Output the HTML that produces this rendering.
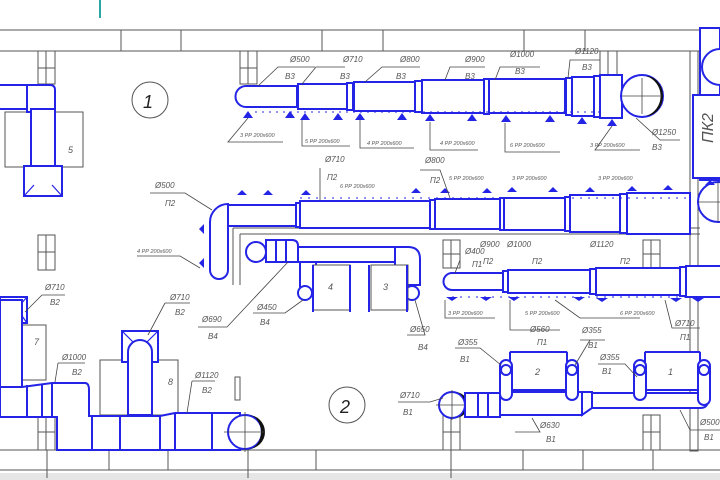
<!DOCTYPE html>
<html><head><meta charset="utf-8"><style>
html,body{margin:0;padding:0;background:#fff;width:720px;height:480px;overflow:hidden}
svg{display:block}
text{font-family:"Liberation Sans",sans-serif;font-style:italic;fill:#555}
.g{stroke:#555;stroke-width:1;fill:none}
.gf{stroke:#555;stroke-width:1;fill:#fff}
.b{stroke:#2424e6;stroke-width:2;fill:#fff}
.bn{stroke:#2424e6;stroke-width:2;fill:none}
.bt{stroke:#2424e6;stroke-width:1.2;fill:none}
.l{stroke:#444;stroke-width:0.8;fill:none}
.d{fill:#2424e6}
</style></head><body>
<svg width="720" height="480" viewBox="0 0 720 480" xmlns="http://www.w3.org/2000/svg">
<rect x="0" y="473" width="720" height="7" fill="#e6e6e6"/>
<line x1="100" y1="0" x2="100" y2="18" stroke="#2aa6a6" stroke-width="2"/>
<!-- walls -->
<path class="g" d="M0 30H700M0 51H700M121 30V51M181 30V51M322 30V51M383 30V51M524 30V51M585 30V51"/>
<path class="g" d="M0 450H720M0 470H720M47 450V478M109 450V470M168 450V470M248 440V478M316 450V470M451 450V478M523 450V470M583 450V470M653 450V470"/>
<!-- columns -->
<g class="g">
<rect x="38" y="51" width="17" height="33"/><path d="M46 51V84M38 68H55"/>
<rect x="240" y="51" width="17" height="33"/><path d="M248 51V84M240 68H257"/>
<rect x="38" y="235" width="17" height="35"/><path d="M46 235V270M38 252H55"/>
<rect x="38" y="415" width="17" height="35"/><path d="M46 415V450M38 432H55"/>
<rect x="443" y="415" width="17" height="35"/><path d="M451 415V450M443 432H460"/>
<rect x="643" y="415" width="17" height="35"/><path d="M651 415V450M643 432H660"/>
<rect x="443" y="240" width="17" height="28"/><path d="M451 240V268M443 254H460"/>
<rect x="643" y="240" width="17" height="28"/><path d="M651 240V268M643 254H660"/>
<rect x="600" y="51" width="17" height="30"/><path d="M608 51V81"/>
<rect x="690" y="51" width="8" height="400"/>
<rect x="235" y="377" width="5" height="23"/>
</g>
<!-- circles 1 2 -->
<circle cx="150" cy="100" r="18" class="g"/><text x="143" y="108" font-size="18" style="fill:#222">1</text>
<circle cx="347" cy="405" r="18" class="g"/><text x="340" y="413" font-size="18" style="fill:#222">2</text>
<!-- unit 5 -->
<rect class="gf" x="5" y="112" width="78" height="55"/><text x="68" y="153" font-size="9">5</text>
<path class="b" d="M0 85H28V109H0"/>
<path class="b" d="M27 85H50Q55 85 55 90V112H27Z"/>
<path class="b" d="M31 109H55V180A12 12 0 0 1 31 180Z"/>
<path class="b" d="M24 166H62V196H24Z"/><path class="bt" d="M24 196L34 185M62 196L52 185"/>
<!-- top duct B3 -->
<path class="b" d="M246 86H297V107H246A10.5 10.5 0 0 1 246 86Z"/>
<rect class="b" x="298" y="84" width="49" height="25"/>
<rect class="b" x="347" y="83" width="6" height="27"/>
<rect class="b" x="354" y="82" width="61" height="29"/>
<rect class="b" x="415" y="81" width="7" height="31"/>
<rect class="b" x="422" y="80" width="62" height="33"/>
<rect class="b" x="484" y="79" width="5" height="35"/>
<rect class="b" x="489" y="79" width="76" height="34"/>
<rect class="b" x="566" y="78" width="6" height="37"/>
<rect class="b" x="572" y="77" width="22" height="39"/>
<rect class="b" x="594" y="76" width="6" height="41"/>
<rect class="b" x="600" y="75" width="22" height="43"/>
<circle cx="642" cy="96" r="21" class="b"/>
<path d="M646 76A21 21 0 0 1 646 116A17 20 0 0 0 646 76Z" fill="#111"/>
<path class="l" d="M622 96H662M642 78V114"/>
<!-- diffusers top -->
<g class="d">
<path d="M243 118l5-7 5 7zM285 118l5-7 5 7zM300 120l5-7 5 7zM333 120l5-7 5 7zM355 120l5-7 5 7zM397 120l5-7 5 7zM425 121l5-7 5 7zM467 121l5-7 5 7zM501 122l5-7 5 7zM545 122l5-7 5 7zM577 124l5-7 5 7zM607 126l5-7 5 7z"/>
</g>
<path d="M255 112H600" stroke="#2424e6" stroke-width="1" stroke-dasharray="2 5"/>
<!-- top labels -->
<g font-size="8">
<text x="290" y="62">Ø500</text><text x="285" y="79">В3</text>
<text x="343" y="62">Ø710</text><text x="340" y="79">В3</text>
<text x="400" y="62">Ø800</text><text x="396" y="79">В3</text>
<text x="465" y="62">Ø900</text><text x="465" y="79">В3</text>
<text x="510" y="57">Ø1000</text><text x="515" y="74">В3</text>
<text x="575" y="54">Ø1120</text><text x="582" y="70">В3</text>
<text x="652" y="135">Ø1250</text><text x="652" y="150">В3</text>
</g>
<path class="l" d="M258 86L278 67H315M302 84L316 67H345M365 82L382 67H420M445 80L450 67H485M495 80L500 67H540M568 78L570 60H600M636 118L660 140H680"/>
<g font-size="5.5">
<text x="240" y="137">3 РР 200х600</text><text x="305" y="143">5 РР 200х600</text>
<text x="367" y="145">4 РР 200х600</text><text x="440" y="145">4 РР 200х600</text>
<text x="510" y="147">6 РР 200х600</text><text x="590" y="147">3 РР 200х600</text>
</g>
<path class="l" d="M248 118L228 142H283M302 120V146H350M360 120V148H414M430 122V150H478M505 123V152H560M612 126L595 150H640"/>
<!-- right box -->
<path class="b" d="M700 28H720V180H700Z"/>
<circle cx="720" cy="67" r="18" class="b"/>
<rect class="b" x="693" y="95" width="30" height="83"/>
<text x="700" y="140" font-size="16" transform="rotate(-90 708 135)">ПК2</text>
<!-- P2 duct -->
<path class="gf" d="M233 228H700M233 228V285M240 234H700M240 234V285"/>
<path class="b" d="M210 222A18 18 0 0 1 228 204V270A9 9 0 0 1 210 270Z"/>
<path class="b" d="M228 205H296V226H228Z"/><path class="bn" d="M228 205V226"/>
<rect class="b" x="296" y="203" width="4" height="24"/>
<rect class="b" x="300" y="201" width="130" height="27"/>
<rect class="b" x="430" y="200" width="5" height="29"/>
<rect class="b" x="435" y="199" width="65" height="30"/>
<rect class="b" x="500" y="198" width="4" height="32"/>
<rect class="b" x="504" y="198" width="61" height="32"/>
<rect class="b" x="565" y="197" width="5" height="34"/>
<rect class="b" x="570" y="195" width="50" height="37"/>
<rect class="b" x="620" y="194" width="7" height="39"/>
<rect class="b" x="627" y="193" width="63" height="41"/>
<circle cx="718" cy="202" r="20" class="b"/>
<path class="l" d="M698 202H720M718 182V222"/>
<g class="d">
<path d="M237 195l5-5 5 5zM263 195l5-5 5 5zM301 195l5-5 5 5zM411 193l5-5 5 5zM440 193l5-5 5 5zM482 193l5-5 5 5zM507 192l5-5 5 5zM548 192l5-5 5 5zM585 192l5-5 5 5zM627 191l5-5 5 5zM663 190l5-5 5 5zM705 185l5-5 5 5z"/>
<path d="M204 224l-5 5 5 5zM204 258l-5 5 5 5z"/>
</g>
<path d="M300 198H690" stroke="#2424e6" stroke-width="1" stroke-dasharray="2 6"/>
<g font-size="8">
<text x="155" y="188">Ø500</text><text x="165" y="206">П2</text>
<text x="325" y="162">Ø710</text><text x="327" y="180">П2</text>
<text x="425" y="163">Ø800</text><text x="430" y="183">П2</text>
<text x="480" y="247">Ø900</text><text x="507" y="247">Ø1000</text><text x="590" y="247">Ø1120</text>
<text x="483" y="264">П2</text><text x="532" y="264">П2</text><text x="620" y="264">П2</text>
</g>
<g font-size="5.5">
<text x="340" y="188">6 РР 200х600</text><text x="449" y="180">5 РР 200х600</text>
<text x="512" y="180">3 РР 200х600</text><text x="598" y="180">3 РР 200х600</text>
<text x="137" y="253">4 РР 200х600</text>
</g>
<path class="l" d="M150 193H185L212 210M320 168V200M420 170H440L450 198M137 256H180L200 268"/>
<!-- B4 branch -->
<circle cx="256" cy="252" r="10" class="b"/>
<path class="b" d="M266 240H292Q298 240 298 246V262H266Z"/><path class="bn" d="M276 240V262M286 240V262"/>
<path class="b" d="M300 263A8 8 0 0 1 316 263V292H300Z"/>
<path class="b" d="M298 247H400V262H298Z"/>
<path class="b" d="M395 247H408Q420 247 420 259V285H395Z"/>
<circle cx="305" cy="293" r="7" class="b"/><circle cx="412" cy="293" r="7" class="b"/>
<rect class="gf" x="313" y="265" width="37" height="45"/><rect class="gf" x="371" y="265" width="37" height="45"/>
<path class="bn" d="M313 265V312M350 265V312M369 265V312M407 265V312"/>
<text x="328" y="290" font-size="9">4</text><text x="383" y="290" font-size="9">3</text>
<g font-size="8"><text x="257" y="310">Ø450</text><text x="260" y="325">В4</text>
<text x="202" y="322">Ø690</text><text x="208" y="339">В4</text>
<text x="410" y="332">Ø650</text><text x="418" y="350">В4</text></g>
<path class="l" d="M253 313H285L303 300M198 327H227L288 262M407 335H425L415 300"/>
<!-- P1 duct -->
<path class="b" d="M452 273H503V290H452A8.5 8.5 0 0 1 452 273Z"/>
<rect class="b" x="503" y="271" width="5" height="21"/>
<rect class="b" x="508" y="270" width="82" height="23"/>
<rect class="b" x="590" y="269" width="6" height="25"/>
<rect class="b" x="596" y="268" width="84" height="27"/>
<rect class="b" x="680" y="267" width="6" height="29"/>
<rect class="b" x="686" y="266" width="40" height="31"/>
<g class="d">
<path d="M446 297h12l-6 4zM480 297h12l-6 4zM508 297h12l-6 4zM573 297h12l-6 4zM596 298h12l-6 4zM670 298h12l-6 4zM692 298h12l-6 4z"/>
</g>
<path d="M452 297H720" stroke="#2424e6" stroke-width="1" stroke-dasharray="2 6"/>
<g font-size="5.5"><text x="448" y="315">3 РР 200х600</text><text x="525" y="315">5 РР 200х600</text><text x="620" y="315">6 РР 200х600</text></g>
<g font-size="8"><text x="465" y="254">Ø400</text><text x="472" y="267">П1</text>
<text x="530" y="332">Ø560</text><text x="537" y="345">П1</text>
<text x="675" y="326">Ø710</text><text x="680" y="340">П1</text></g>
<path class="l" d="M460 260L455 273M445 300V318H495M510 300V330H560M555 300L580 318H640M665 300L672 328H700"/>
<!-- B1 -->
<circle cx="452" cy="405" r="13" class="b"/>
<path d="M455 392A13 13 0 0 1 455 418A10 13 0 0 0 455 392Z" fill="#111"/>
<path class="l" d="M436 405H468M452 390V420"/>
<rect class="b" x="465" y="393" width="35" height="24"/><path class="bn" d="M478 393V417M488 393V417"/>
<path class="b" d="M500 392H582V415H500Z"/>
<path class="b" d="M582 392H592V408L582 415Z"/>
<path class="b" d="M592 393H700A10 10 0 0 0 708 383V400Q708 408 700 408H592Z"/>
<rect class="gf" x="510" y="352" width="57" height="38"/><rect class="gf" x="645" y="352" width="55" height="38"/>
<path class="bn" d="M510 352V392M567 352V392M645 352V392M700 352V392M510 352H567M645 352H700M510 390H567M645 390H700"/>
<rect class="b" x="500" y="360" width="12" height="40" rx="6"/>
<rect class="b" x="566" y="360" width="12" height="40" rx="6"/>
<rect class="b" x="634" y="360" width="12" height="40" rx="6"/>
<rect class="b" x="698" y="360" width="12" height="45" rx="6"/>
<circle cx="506" cy="370" r="5" class="b"/><circle cx="572" cy="370" r="5" class="b"/><circle cx="640" cy="370" r="5" class="b"/><circle cx="704" cy="370" r="5" class="b"/>
<text x="535" y="375" font-size="9">2</text><text x="668" y="375" font-size="9">1</text>
<g font-size="8"><text x="458" y="345">Ø355</text><text x="460" y="362">В1</text>
<text x="582" y="333">Ø355</text><text x="588" y="348">В1</text>
<text x="600" y="360">Ø355</text><text x="602" y="374">В1</text>
<text x="400" y="398">Ø710</text><text x="403" y="415">В1</text>
<text x="540" y="428">Ø630</text><text x="546" y="442">В1</text>
<text x="700" y="425">Ø500</text><text x="704" y="440">В1</text></g>
<path class="l" d="M455 348H480L501 365M580 340H605M590 340L575 365M598 364H625L637 377M398 402H430L443 398M515 432H540L532 418M690 430H720M690 430L680 410"/>
<!-- B2 left bottom -->
<rect class="gf" x="22" y="325" width="24" height="55"/><text x="34" y="345" font-size="9">7</text>
<rect class="gf" x="100" y="360" width="78" height="55"/><text x="168" y="385" font-size="9">8</text>
<path class="b" d="M0 297H27V323H0Z"/><path class="bt" d="M27 323L20 313M27 297L20 305"/>
<path class="b" d="M0 300H22V387H0Z"/>
<path class="b" d="M0 387H22L52 383H85Q89 383 89 390V416H160L175 413H240V450H57V417H0Z"/>
<path class="bn" d="M27 385V416M42 384V416M52 383V416M92 416V450M120 416V450M160 416V450M175 413V450M212 413V450"/>
<path class="b" d="M122 331H158V362H122Z"/><path class="bt" d="M122 331L133 342M158 331L147 342"/>
<path class="b" d="M128 415V352A12 12 0 0 1 152 352V415Z"/>
<circle cx="245" cy="432" r="17" class="b"/>
<path d="M248 415A17 17 0 0 1 248 449A13 17 0 0 0 248 415Z" fill="#111"/>
<path class="l" d="M224 432H265M245 412V452"/>
<g font-size="8"><text x="45" y="290">Ø710</text><text x="50" y="305">В2</text>
<text x="170" y="300">Ø710</text><text x="175" y="315">В2</text>
<text x="62" y="360">Ø1000</text><text x="72" y="375">В2</text>
<text x="195" y="378">Ø1120</text><text x="202" y="393">В2</text></g>
<path class="l" d="M42 295H65M42 295L25 312M165 303H190M165 303L148 335M58 363H85M58 363L55 382M192 381H215M192 381L187 413"/>
</svg>
</body></html>
